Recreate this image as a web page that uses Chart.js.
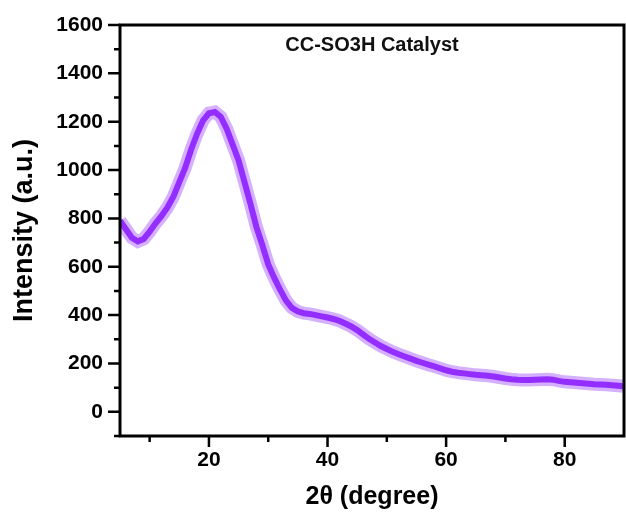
<!DOCTYPE html>
<html>
<head>
<meta charset="utf-8">
<script src="https://cdn.jsdelivr.net/npm/chart.js@4.4.0/dist/chart.umd.min.js"></script>
<style>
  body { margin: 0; background: #fff; }
</style>
</head>
<body>
<canvas id="xrdChart" width="626" height="514"></canvas>
<script>
// 2theta positions (degree) and intensity
const twoTheta = [5,6,7,8,9,10,11,12,13,14,15,16,17,18,19,20,21,22,23,24,25,26,27,28,29,30,
  31,32,33,34,35,36,37,38,39,40,41,42,43,44,45,46,47,48,49,50,51,52,53,54,55,56,57,58,59,60,
  61,62,63,64,65,66,67,68,69,70,71,72,73,74,75,76,77,78,79,80,81,82,83,84,85,86,87,88,89,90];
const intensity = [790,755,720,705,715,745,780,810,845,890,950,1010,1085,1150,1205,1235,1240,1220,1170,1105,1040,950,860,765,690,610,
  555,505,460,430,415,408,405,400,395,390,384,376,365,353,338,320,302,287,272,260,248,238,229,220,211,203,195,188,180,172,
  166,162,159,156,153,151,149,146,142,138,135,133,132,132,133,134,135,133,128,124,122,120,118,116,114,113,112,110,108,106];

const xMajorTicks = [20, 40, 60, 80];
const xMinorTicks = [10, 30, 50, 70];
const yMajorTicks = [0, 200, 400, 600, 800, 1000, 1200, 1400, 1600];
const yMinorTicks = [-100, 100, 300, 500, 700, 900, 1100, 1300, 1500];
const sampleName = 'CC-SO3H Catalyst';

Chart.defaults.font.family = '"Liberation Sans", Arial, sans-serif';
Chart.defaults.color = '#000';

const pts = twoTheta.map((x, i) => ({x: x, y: intensity[i]}));

// frame, tick marks and the label inside the plot
const framePlugin = {
  id: 'frame',
  afterDraw(chart) {
    const ctx = chart.ctx;
    const a = chart.chartArea;
    const xs = chart.scales.x, ys = chart.scales.y;
    ctx.save();
    ctx.strokeStyle = '#000';
    ctx.lineWidth = 3;
    ctx.strokeRect(a.left, a.top, a.right - a.left, a.bottom - a.top);
    ctx.lineWidth = 2.5;
    ctx.beginPath();
    yMajorTicks.forEach(v => { const p = ys.getPixelForValue(v); ctx.moveTo(a.left, p); ctx.lineTo(a.left - 12, p); });
    yMinorTicks.forEach(v => { const p = ys.getPixelForValue(v); ctx.moveTo(a.left, p); ctx.lineTo(a.left - 6, p); });
    xMajorTicks.forEach(v => { const p = xs.getPixelForValue(v); ctx.moveTo(p, a.bottom); ctx.lineTo(p, a.bottom + 11); });
    xMinorTicks.forEach(v => { const p = xs.getPixelForValue(v); ctx.moveTo(p, a.bottom); ctx.lineTo(p, a.bottom + 6); });
    ctx.stroke();
    ctx.fillStyle = '#111';
    ctx.font = 'bold 20px "Liberation Sans", Arial, sans-serif';
    ctx.textAlign = 'center';
    ctx.textBaseline = 'middle';
    ctx.fillText(sampleName, (a.left + a.right) / 2, a.top + 20);
    ctx.restore();
  }
};

new Chart(document.getElementById('xrdChart'), {
  type: 'line',
  data: {
    datasets: [{
      data: pts,
      borderColor: 'rgba(160, 80, 255, 0.45)',
      borderWidth: 13,
      pointRadius: 0,
      tension: 0
    }, {
      data: pts,
      borderColor: '#8a12ff',
      borderWidth: 6,
      pointRadius: 0,
      tension: 0
    }]
  },
  options: {
    responsive: false,
    animation: false,
    layout: { padding: { top: 25, right: 2, left: 0, bottom: 0 } },
    plugins: { legend: { display: false }, tooltip: { enabled: false } },
    scales: {
      x: {
        type: 'linear',
        min: 5,
        max: 90,
        grid: { display: false, drawTicks: false },
        border: { display: false },
        ticks: {
          stepSize: 10,
          padding: 12,
          maxRotation: 0,
          autoSkip: false,
          font: { size: 21, weight: 'bold' },
          callback: v => xMajorTicks.includes(v) ? v : ''
        },
        title: {
          display: true,
          text: '2θ (degree)',
          font: { size: 25, weight: 'bold' },
          padding: { top: 0, bottom: 2 }
        },
        afterFit: s => { s.height = 78; s.paddingLeft = 0; s.paddingRight = 0; }
      },
      y: {
        min: -100,
        max: 1600,
        grid: { display: false, drawTicks: false },
        border: { display: false },
        ticks: {
          stepSize: 100,
          padding: 17,
          autoSkip: false,
          font: { size: 21, weight: 'bold' },
          callback: v => yMajorTicks.includes(v) ? v : ''
        },
        title: {
          display: true,
          text: 'Intensity (a.u.)',
          font: { size: 27, weight: 'bold' },
          padding: { top: 8, bottom: 0 }
        },
        afterFit: s => { s.width = 120; s.paddingTop = 0; s.paddingBottom = 0; }
      }
    }
  },
  plugins: [framePlugin]
});
</script>
</body>
</html>
